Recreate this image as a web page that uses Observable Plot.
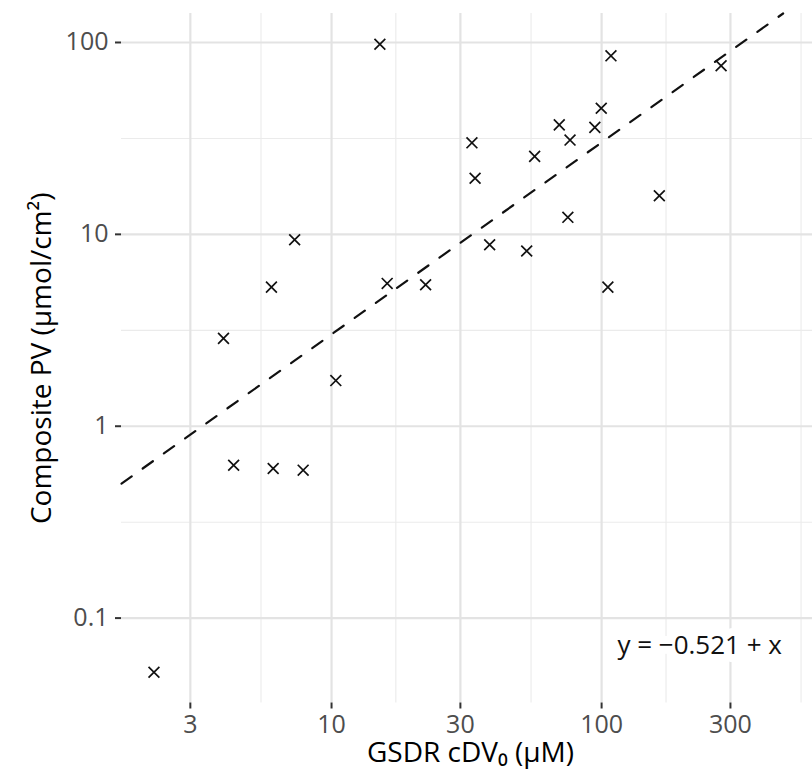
<!DOCTYPE html>
<html>
<head>
<meta charset="utf-8">
<script src="https://cdn.jsdelivr.net/npm/d3@7"></script>
<script src="https://cdn.jsdelivr.net/npm/@observablehq/plot@0.6"></script>
<style>
  html, body { margin: 0; padding: 0; background: #fff; overflow: hidden; }
  #chart { width: 831px; }
</style>
</head>
<body>
<div id="chart"></div>
<script>
// GSDR cDV0 (µM) and composite PV (µmol/cm²)
const gsdr = [15.1, 108.3, 277, 99.7, 69.7, 94.4, 76.4, 33.1, 56.5, 34.0, 163.6, 75.0, 7.30,
              38.5, 52.8, 5.99, 16.07, 22.3, 105.5, 3.98, 10.37, 4.34, 6.08, 7.85, 2.20];
const pv   = [97.9, 85.2, 75.6, 45.4, 37.2, 36.1, 31.0, 30.0, 25.5, 19.6, 15.9, 12.27, 9.37,
              8.83, 8.19, 5.31, 5.55, 5.46, 5.31, 2.87, 1.73, 0.626, 0.602, 0.590, 0.0522];

const xTicks = [3, 10, 30, 100, 300];
const yTicks = [0.1, 1, 10, 100];
const xMinor = [5.48, 17.3, 54.8, 173.2, 547.7];
const yMinor = [0.316, 3.16, 31.6];
const xDomain = [1.668, 641];
const yDomain = [0.0361, 141.6];

const fitIntercept = -0.521;   // log10 space
const fitSlope = 1;
const eqText = ["y = −0.521 + x"];
const eqX = [230.7];
const eqY = [0.0721];

const xTitle = ["GSDR cDV₀ (μM)"];
const yTitle = ["Composite PV (μmol/cm²)"];

const points = gsdr.map((g, i) => ({x: g, y: pv[i]}));

// fitted line in log-log space, clipped to the panel
const fitY = x => Math.pow(10, fitIntercept) * Math.pow(x, fitSlope);
const xTop = Math.pow(yDomain[1] / Math.pow(10, fitIntercept), 1 / fitSlope);
const fitXs = [xDomain[0], Math.min(xDomain[1], xTop)];
const fitPts = fitXs.map(x => ({x, y: fitY(x)}));

const chart = Plot.plot({
  width: 831,
  height: 772,
  marginLeft: 121,
  marginRight: 12,
  marginTop: 13,
  marginBottom: 69.5,
  style: {fontFamily: "'Open Sans', sans-serif", background: "white", color: "black"},
  x: {type: "log", domain: xDomain},
  y: {type: "log", domain: yDomain},
  marks: [
    Plot.ruleX(xMinor, {stroke: "#EBEBEB", strokeWidth: 1.1}),
    Plot.ruleY(yMinor, {stroke: "#EBEBEB", strokeWidth: 1.1}),
    Plot.ruleX(xTicks, {stroke: "#E3E3E3", strokeWidth: 2.2}),
    Plot.ruleY(yTicks, {stroke: "#E3E3E3", strokeWidth: 2.2}),
    Plot.line(fitPts, {x: "x", y: "y", stroke: "#111", strokeWidth: 2.2, strokeDasharray: "12.5,13.5"}),
    Plot.text(eqText, {x: eqX, y: eqY, text: d => d, fontSize: 26, fill: "#111",
                       stroke: "white", strokeWidth: 16, lineAnchor: "middle"}),
    Plot.dot(points, {x: "x", y: "y", symbol: "times", r: 5, stroke: "#111", strokeWidth: 1.7}),
    Plot.axisX({ticks: xTicks, tickFormat: d => String(d), tickSize: 6, tickPadding: 6,
                fontSize: 25, stroke: "#333", fill: "#4D4D4D", strokeWidth: 2, label: null}),
    Plot.axisY({ticks: yTicks, tickFormat: d => String(d), tickSize: 6, tickPadding: 7,
                fontSize: 25, stroke: "#333", fill: "#4D4D4D", strokeWidth: 2, label: null}),
    Plot.text(xTitle, {frameAnchor: "bottom", dy: 50, fontSize: 28, fill: "black",
                       textAnchor: "middle", lineAnchor: "middle"}),
    Plot.text(yTitle, {frameAnchor: "left", rotate: -90, dx: -79, fontSize: 28, fill: "black",
                       textAnchor: "middle", lineAnchor: "middle"})
  ]
});
document.getElementById("chart").appendChild(chart);
</script>
</body>
</html>
